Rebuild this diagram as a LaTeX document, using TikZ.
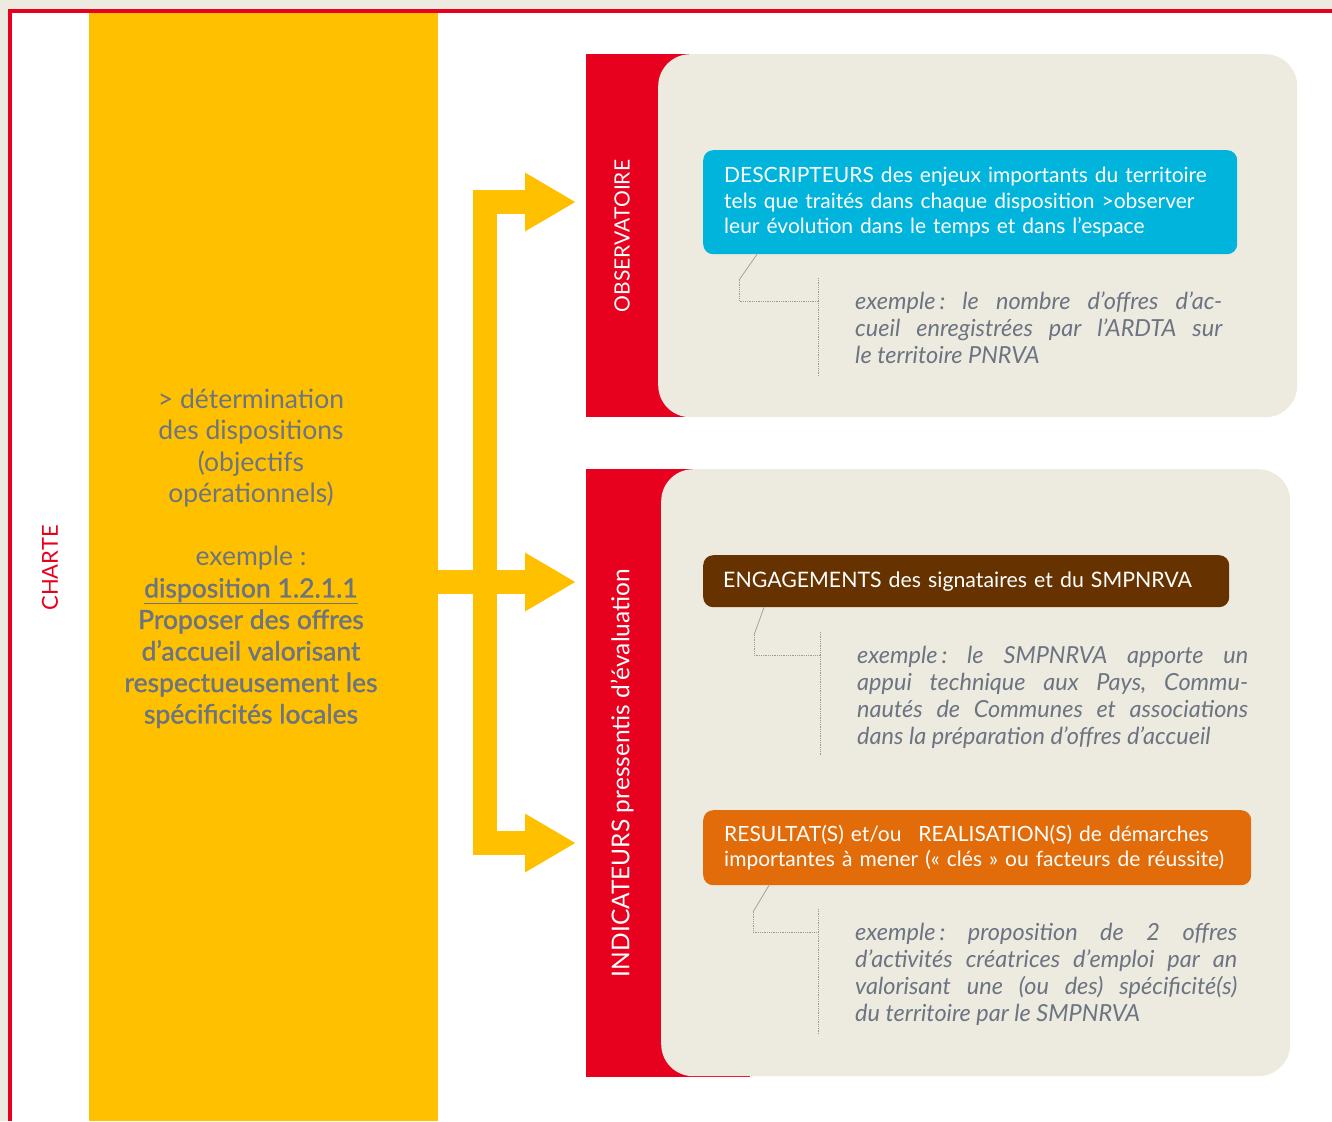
\documentclass[tikz,border=0pt]{standalone}
\usepackage{fontspec}
\setmainfont{Lato}
\newfontfamily\medfont[FakeBold=1.3]{Lato}
\usetikzlibrary{arrows.meta,calc}
\definecolor{cred}{HTML}{E8001F}
\definecolor{cyell}{HTML}{FFC000}
\definecolor{cbeige}{HTML}{EDEAE0}
\definecolor{cblue}{HTML}{00B4DC}
\definecolor{cbrown}{HTML}{663300}
\definecolor{corange}{HTML}{E36C0A}
\definecolor{cgrey}{HTML}{6B7480}
\definecolor{cline}{HTML}{9A9A9A}
\tikzset{
  yarrow/.style={draw=cyell, line width=24pt, line join=miter, -{Triangle[width=55pt,length=51pt]}},
  tabtext/.style={rotate=90, text=white, inner sep=0},
  panel/.style={fill=cbeige, rounded corners=32pt, anchor=north west, inner sep=0},
  headbox/.style={rounded corners=10pt, anchor=north west, text=white, align=left,
     font=\fontsize{21}{25.5}\selectfont, inner xsep=21pt, inner ysep=0pt},
  example/.style={text=cgrey, align=justify, anchor=north west, inner sep=0,
     font=\fontsize{23.5}{27}\selectfont\itshape\frenchspacing},
  callout/.style={draw=cline, line width=0.7pt},
  calloutdot/.style={draw=cline, line width=0.8pt, densely dotted},
}
\begin{document}
\frenchspacing
\begin{tikzpicture}[x=1pt,y=-1pt]
\useasboundingbox (0,0) rectangle (1332,1121);
\fill[cbeige] (0,0) rectangle (1332,1121);
\fill[white] (8,10) rectangle (1332,1121);
\draw[cred, line width=4pt] (10,1121) -- (10,11.5) -- (1332,11.5);

% CHARTE label
\node[rotate=90, text=cred, font=\fontsize{22}{24}\selectfont, inner sep=0] (charte) at (50,568) {CHARTE};

% yellow column
\node[fill=cyell, anchor=north west, inner sep=0, minimum width=349pt, minimum height=1108pt] (col) at (89,13) {};
\node[text=cgrey, align=center, inner sep=0, font=\fontsize{26.5}{31.5}\selectfont] (coltext) at (251,558.5)
  {> détermination\\des dispositions\\(objectifs\\opérationnels)\\[31.5pt]
   exemple :\\{\medfont\underline{disposition 1.2.1.1}}\\{\medfont Proposer des offres}\\{\medfont d’accueil valorisant}\\
   {\medfont respectueusement les}\\{\medfont spécificités locales}};

% red tabs and panels
\fill[cred] (586,54) rectangle (700,417);
\node[panel, minimum width=639pt, minimum height=363pt] (panel1) at (658,54) {};
\fill[cred] (586,469) rectangle (720,1077);
\draw[cred, line width=1.5pt] (700,1076.5) -- (750,1076.5);
\node[panel, minimum width=629pt, minimum height=607pt] (panel2) at (661,469) {};
\node[tabtext, font=\fontsize{21}{24}\selectfont] (obs) at (622,236) {OBSERVATOIRE};
\node[tabtext, font=\fontsize{24.5}{26}\selectfont] (ind) at (622,773) {INDICATEURS pressentis d’évaluation};

% arrows
\coordinate (tip1) at (576,202);
\coordinate (tip2) at (576,582);
\coordinate (tip3) at (576,843);
\coordinate (bend1) at (485,202);
\coordinate (bend3) at (485,843);
\draw[yarrow] (485,600) -- (bend1) -- (tip1);
\draw[yarrow] (485,400) -- (bend3) -- (tip3);
\draw[yarrow] (col.east |- tip2) -- (tip2);

% header boxes
\node[headbox, fill=cblue, minimum width=534pt, minimum height=104pt, text width=492pt] (desc) at (703,150)
  {DESCRIPTEURS des enjeux importants du territoire\\tels que traités dans chaque disposition >observer\\leur évolution dans le temps et dans l’espace};
\node[headbox, fill=cbrown, minimum width=526pt, minimum height=52pt, text width=486pt, inner xsep=20pt,
      font=\fontsize{21.3}{25.5}\selectfont] (eng) at (703,555)
  {ENGAGEMENTS des signataires et du SMPNRVA};
\node[headbox, fill=corange, minimum width=548pt, minimum height=75pt, text width=506pt] (res) at (703,810)
  {RESULTAT(S) et/ou\hspace{0.8em}REALISATION(S) de démarches\\importantes à mener («~clés~» ou facteurs de réussite)};

% examples
\node[example, text width=367pt] (ex1) at (855,292)
  {exemple\,: le nombre d’offres d’ac-\linebreak cueil enregistrées par l’ARDTA sur\linebreak le territoire PNRVA};
\node[example, text width=391pt] (ex2) at (857,646)
  {exemple\,: le SMPNRVA apporte un\linebreak appui technique aux Pays, Commu-\linebreak nautés de Communes et associations\linebreak dans la préparation d’offres d’accueil};
\node[example, text width=382pt] (ex3) at (855,923)
  {exemple\,: proposition de 2 offres\linebreak d’activités créatrices d’emploi par an\linebreak valorisant une (ou des) spécificité(s)\linebreak du territoire par le SMPNRVA};

% callout connectors
\draw[callout] ([xshift=54pt]desc.south west) -- (739,280);
\draw[calloutdot] (739,280) -- (739,301) -- (818,301);
\draw[calloutdot] (818,278) -- (818,377);
\draw[callout] ([xshift=61pt]eng.south west) -- (754,635);
\draw[calloutdot] (754,635) -- (754,655) -- (820,655);
\draw[calloutdot] (820,632) -- (820,756);
\draw[callout] ([xshift=66pt]res.south west) -- (753,912);
\draw[calloutdot] (753,912) -- (753,932) -- (818,932);
\draw[calloutdot] (818,909) -- (818,1035);
\end{tikzpicture}
\end{document}
